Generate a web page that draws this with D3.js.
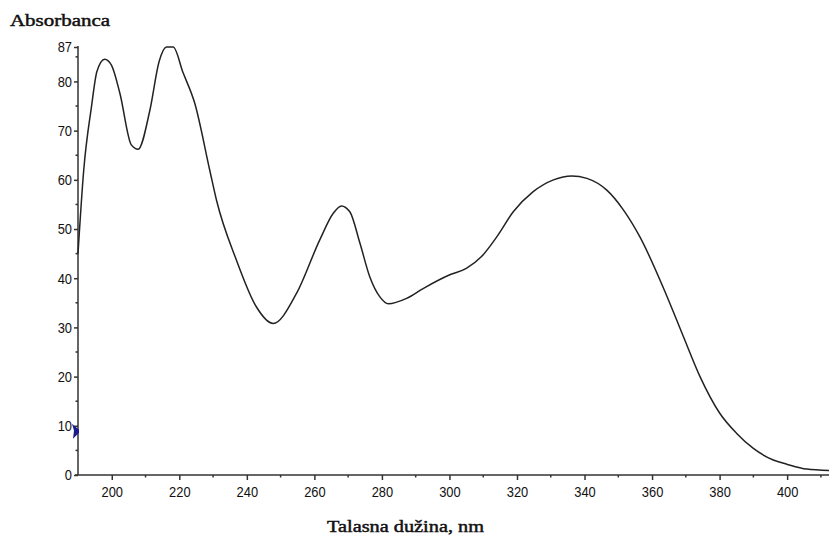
<!DOCTYPE html>
<html>
<head>
<meta charset="utf-8">
<script src="https://cdn.jsdelivr.net/npm/d3@7"></script>
<style>
  body { margin: 0; background: #fff; }
  svg { display: block; }
</style>
</head>
<body>
<svg id="chart" width="829" height="536"></svg>
<script>
// spectrum: wavelength (nm) and absorbance
const wavelengths = [190, 191.7, 194, 195.6, 197.9, 199.9, 202.4, 205.8, 207.8, 211.3, 214, 216.2, 218.2,
  221.1, 224.6, 229, 231, 236.9, 242.8, 247.8, 254.7, 261.6, 265.6, 268, 270.5, 273.5, 276.4, 279.4,
  281.9, 287.3, 292.2, 300.1, 305, 309.5, 314, 318.9, 324.8, 330.8, 336.2, 340.7, 346.6, 351.5, 356.4,
  364.3, 369.3, 374.2, 380.1, 385, 390, 395.9, 399.9, 405.8, 412.4]
const absorbance = [45, 62, 74.9, 82, 84.5, 83.3, 77.6, 67.1, 66.2, 74.2, 84, 87, 87,
  81.8, 75.5, 62, 55.9, 43.7, 34.2, 30.8, 36.9, 47.8, 53.2, 54.7, 53.5, 47.1, 40.3, 36.2,
  34.8, 35.9, 37.9, 40.7, 42, 44.4, 48.4, 53.5, 57.6, 60, 60.8, 60.3, 57.9, 53.9, 48.4,
  36.5, 28.1, 20, 12.5, 8.5, 5.4, 3.05, 2.2, 1.2, 0.9]

const xTicks = [200, 220, 240, 260, 280, 300, 320, 340, 360, 380, 400]
const xMinorTicks = [210, 230, 250, 270, 290, 310, 330, 350, 370, 390, 410]
const yTicks = [0, 10, 20, 30, 40, 50, 60, 70, 80, 87]
const yMinorTicks = [5, 15, 25, 35, 45, 55, 65, 75, 85]
const markerValue = 9

const svg = d3.select("#chart")
const tickFont = "'Liberation Sans', Arial, sans-serif"
const labelFont = "'Liberation Serif', 'Times New Roman', serif"
const axisColor = "#333"

const x = d3.scaleLinear().domain([190, 412.4]).range([78, 829])
const y = d3.scaleLinear().domain([0, 87]).range([475, 47])

// x axis
const xAxis = svg.append("g")
  .attr("transform", `translate(0,${y(0)})`)
  .call(d3.axisBottom(x).tickValues(xTicks).tickSize(5).tickPadding(6).tickFormat(d3.format("d")))
xAxis.select(".domain").attr("d", `M${x(190) - 3},0H${x(412.4)}`)
xAxis.selectAll("line, path").attr("stroke", axisColor).attr("stroke-width", 1.5)
xAxis.selectAll("text")
  .attr("fill", "#111")
  .attr("transform", "scale(0.86,1)")
  .style("font", `15px ${tickFont}`)

svg.append("g").selectAll("line")
  .data(xMinorTicks)
  .join("line")
  .attr("x1", d => x(d)).attr("x2", d => x(d))
  .attr("y1", y(0)).attr("y2", y(0) + 2.5)
  .attr("stroke", axisColor).attr("stroke-width", 1.5)

// y axis
const yAxis = svg.append("g")
  .attr("transform", `translate(${x(190)},0)`)
  .call(d3.axisLeft(y).tickValues(yTicks).tickSize(4).tickPadding(3).tickFormat(d3.format("d")))
yAxis.select(".domain").attr("d", `M0,${y(0)}V${y(87) - 1}`)
yAxis.selectAll("line, path").attr("stroke", axisColor).attr("stroke-width", 1.5)
yAxis.selectAll("text")
  .attr("fill", "#111")
  .attr("transform", "scale(0.86,1)")
  .style("font", `15px ${tickFont}`)

svg.append("g").selectAll("line")
  .data(yMinorTicks)
  .join("line")
  .attr("x1", x(190) - 2.5).attr("x2", x(190))
  .attr("y1", d => y(d)).attr("y2", d => y(d))
  .attr("stroke", axisColor).attr("stroke-width", 1.5)

// spectrum
const line = d3.line()
  .x((d, i) => x(wavelengths[i]))
  .y(d => y(d))
  .curve(d3.curveMonotoneX)

svg.append("path")
  .datum(absorbance)
  .attr("d", line)
  .attr("fill", "none")
  .attr("stroke", "#222")
  .attr("stroke-width", 1.5)

// blue cursor marker on the y axis
const my = y(markerValue)
svg.append("path")
  .attr("d", `M${x(190) - 6},${my - 7}L${x(190) + 1},${my - 1}L${x(190) + 1},${my + 2}L${x(190) - 5},${my + 8}L${x(190) - 4},${my}Z`)
  .attr("fill", "#1b1b8c")

// titles
svg.append("text")
  .attr("x", 10).attr("y", 26)
  .attr("textLength", 100).attr("lengthAdjust", "spacingAndGlyphs")
  .style("font", `16px ${labelFont}`)
  .attr("fill", "#111").attr("stroke", "#111").attr("stroke-width", 0.45)
  .text("Absorbanca")

svg.append("text")
  .attr("x", 327).attr("y", 532)
  .attr("textLength", 157).attr("lengthAdjust", "spacingAndGlyphs")
  .style("font", `16px ${labelFont}`)
  .attr("fill", "#111").attr("stroke", "#111").attr("stroke-width", 0.45)
  .text("Talasna dužina, nm")
</script>
</body>
</html>
